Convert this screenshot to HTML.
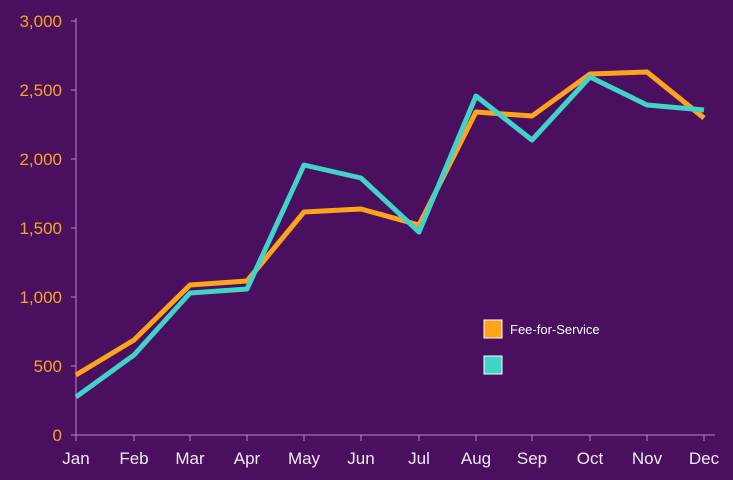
<!DOCTYPE html>
<html><head><style>
html,body{margin:0;padding:0;background:#4a0f5e;}
svg{display:block;}
</style></head><body>
<svg width="733" height="480" viewBox="0 0 733 480" xmlns="http://www.w3.org/2000/svg">
<rect width="733" height="480" fill="#4a0f5e"/>
<g stroke="#b48ad0" stroke-width="1">
<line x1="76" y1="18" x2="76" y2="435"/>
<line x1="76" y1="435" x2="715" y2="435"/>
<line x1="71" y1="21" x2="76" y2="21"/><line x1="71" y1="90" x2="76" y2="90"/>
<line x1="71" y1="159" x2="76" y2="159"/><line x1="71" y1="228" x2="76" y2="228"/>
<line x1="71" y1="297" x2="76" y2="297"/><line x1="71" y1="366" x2="76" y2="366"/>
<line x1="71" y1="435" x2="76" y2="435"/>
<line x1="76" y1="435" x2="76" y2="441"/><line x1="134" y1="435" x2="134" y2="441"/>
<line x1="190" y1="435" x2="190" y2="441"/><line x1="247" y1="435" x2="247" y2="441"/>
<line x1="304" y1="435" x2="304" y2="441"/><line x1="361" y1="435" x2="361" y2="441"/>
<line x1="419" y1="435" x2="419" y2="441"/><line x1="476" y1="435" x2="476" y2="441"/>
<line x1="532" y1="435" x2="532" y2="441"/><line x1="590" y1="435" x2="590" y2="441"/>
<line x1="647" y1="435" x2="647" y2="441"/><line x1="704" y1="435" x2="704" y2="441"/>
</g>
<g font-family="Liberation Sans, sans-serif" font-size="17" fill="#f5a623" text-anchor="end">
<text x="62" y="27">3,000</text><text x="62" y="96">2,500</text><text x="62" y="165">2,000</text>
<text x="62" y="234">1,500</text><text x="62" y="303">1,000</text><text x="62" y="372">500</text>
<text x="62" y="441">0</text>
</g>
<g font-family="Liberation Sans, sans-serif" font-size="17" fill="#f4eaf8" text-anchor="middle">
<text x="76" y="464">Jan</text><text x="134" y="464">Feb</text><text x="190" y="464">Mar</text>
<text x="247" y="464">Apr</text><text x="304" y="464">May</text><text x="361" y="464">Jun</text>
<text x="419" y="464">Jul</text><text x="476" y="464">Aug</text><text x="532" y="464">Sep</text>
<text x="590" y="464">Oct</text><text x="647" y="464">Nov</text><text x="704" y="464">Dec</text>
</g>
<polyline fill="none" stroke="#ffa31a" stroke-width="5" stroke-linejoin="round" points="76,375 134,340 190,285 247,281 304,212 361,209 419,225 476,112 532,116 590,74 647,72 704,118"/>
<polyline fill="none" stroke="#3fd3c9" stroke-width="5" stroke-linejoin="round" points="76,397 134,355 190,293 247,289 304,165 361,178 419,232 476,96 532,140 590,77 647,105 704,110"/>
<rect x="484" y="320" width="18" height="18" fill="#ffa31a" stroke="#fff" stroke-width="1"/>
<rect x="484" y="356" width="18" height="18" fill="#3fd3c9" stroke="#fff" stroke-width="1"/>
<text x="510" y="334" font-family="Liberation Sans, sans-serif" font-size="13" fill="#ffffff">Fee-for-Service</text>
</svg>
</body></html>
